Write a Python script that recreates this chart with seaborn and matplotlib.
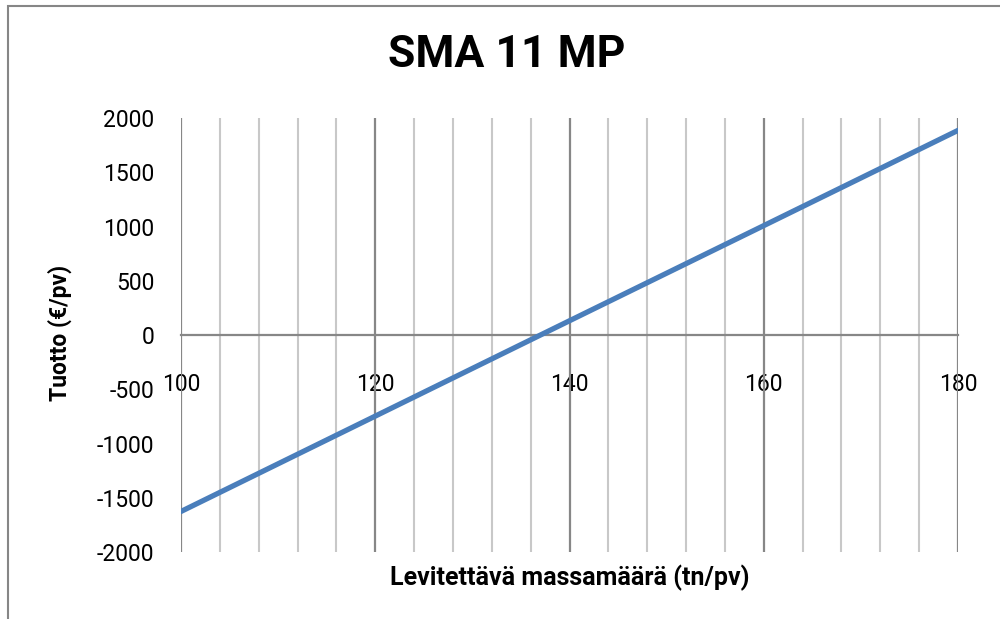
import numpy as np
import pandas as pd
import seaborn as sns
import matplotlib.pyplot as plt
from matplotlib.patches import Rectangle

# tn/pv vs tuotto
massa = [100, 120, 140, 160, 180]
tuotto = [-1625, -746, 133, 1010, 1888]

x_ticks = [100, 120, 140, 160, 180]
y_ticks = [-2000, -1500, -1000, -500, 0, 500, 1000, 1500, 2000]

df = pd.DataFrame({'massa': massa, 'tuotto': tuotto})

sns.set_style('white')
plt.rcParams['font.family'] = ['Roboto', 'DejaVu Sans']
plt.rcParams['axes.unicode_minus'] = False
plt.rcParams['text.color'] = 'black'

fig = plt.figure(figsize=(10, 6.19), dpi=100)
ax = fig.add_axes([0.181, 0.108, 0.777, 0.701])

# vertical gridlines (minor every 4, major every 20)
for v in np.arange(100, 181, 4):
    major = (v - 100) % 20 == 0
    ax.axvline(v, color='#878787' if major else '#c8c8c8',
               lw=1.6 if major else 1.5, zorder=1)

sns.lineplot(data=df, x='massa', y='tuotto', ax=ax, color='#4a7ebb',
             lw=3.8, zorder=3)

ax.set_xlim(100, 180)
ax.set_ylim(-2000, 2000)
ax.set_xticks(x_ticks)
ax.set_yticks(y_ticks)
ax.tick_params(axis='both', length=0, labelsize=16.5, colors='black')
ax.tick_params(axis='x', pad=27)
ax.tick_params(axis='y', pad=19)

for s in ['top', 'right', 'left']:
    ax.spines[s].set_visible(False)
ax.spines['bottom'].set_position(('data', 0))
ax.spines['bottom'].set_color('#878787')
ax.spines['bottom'].set_linewidth(1.6)
ax.spines['bottom'].set_zorder(2)

ax.set_xlabel('')
ax.set_ylabel('')
fig.text(0.06, 0.462, 'Tuotto (€/pv)', rotation=90, ha='center', va='center',
         fontsize=16.5, fontweight='bold', color='black')
fig.text(0.57, 0.066, 'Levitettävä massamäärä (tn/pv)', ha='center', va='center',
         fontsize=18, fontweight='bold', color='black')
fig.text(0.507, 0.911, 'SMA 11 MP', ha='center', va='center',
         fontsize=32, fontweight='bold', color='black')

# outer chart frame
fig.add_artist(Rectangle((0.008, -0.05), 1.1, 1.0403, transform=fig.transFigure,
                         fill=False, edgecolor='#868686', lw=1.5))

fig.savefig('out.png', dpi=100)
